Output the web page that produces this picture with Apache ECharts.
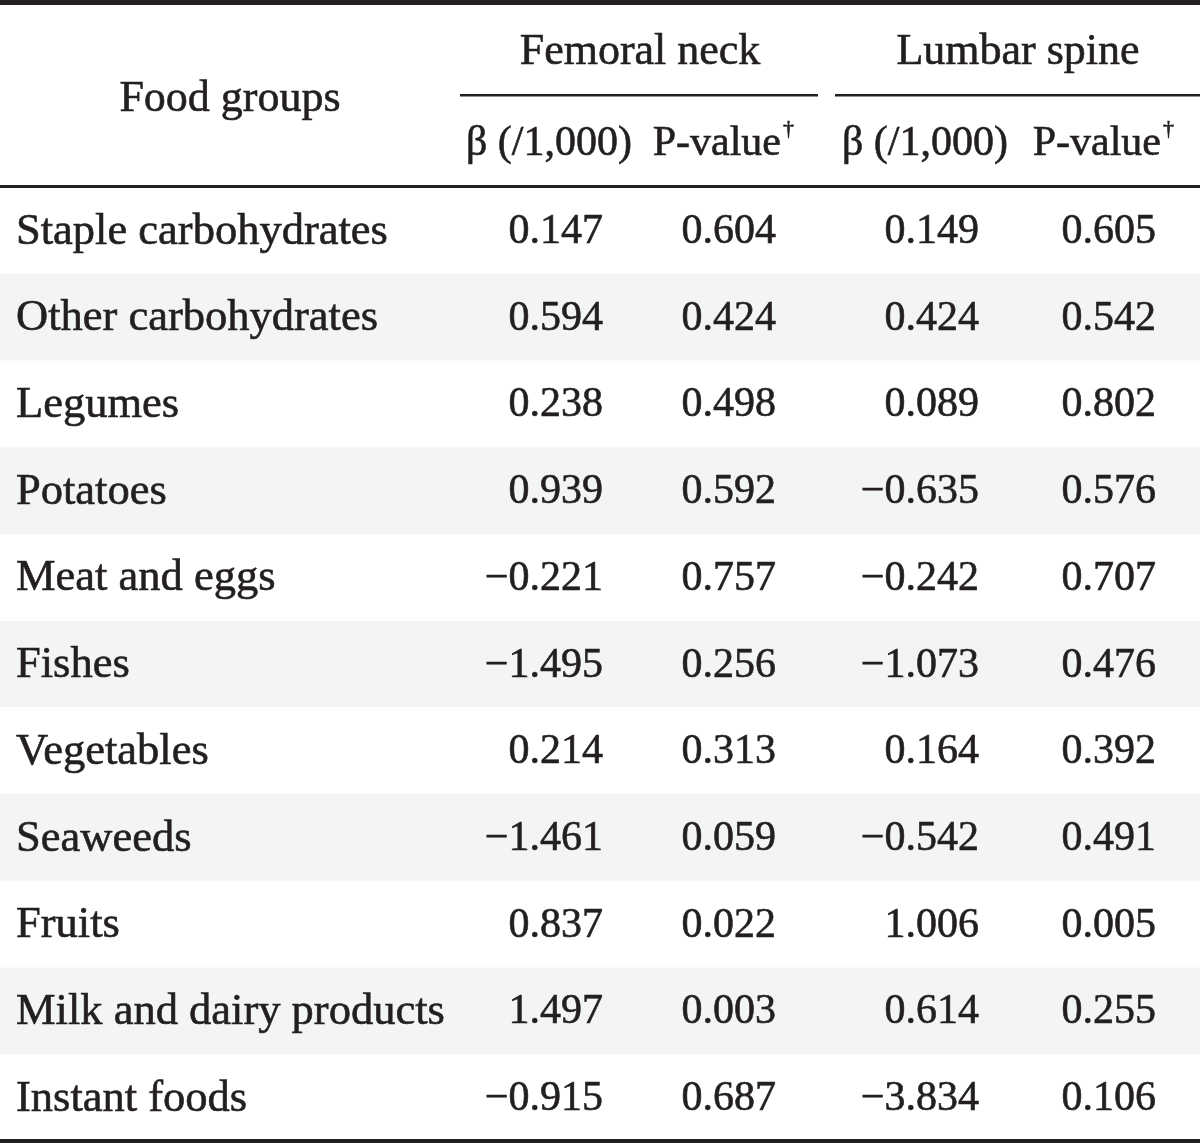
<!DOCTYPE html>
<html>
<head>
<meta charset="utf-8">
<script src="https://cdn.jsdelivr.net/npm/echarts@6/dist/echarts.min.js"></script>
<style>
html,body{margin:0;padding:0;background:#fff;}
#chart{width:1200px;height:1143px;}
</style>
</head>
<body>
<div id="chart"></div>
<script>
// ---- data ----
const foodGroups = [
  'Staple carbohydrates', 'Other carbohydrates', 'Legumes', 'Potatoes',
  'Meat and eggs', 'Fishes', 'Vegetables', 'Seaweeds', 'Fruits',
  'Milk and dairy products', 'Instant foods'
];
const femoralBeta = [0.147, 0.594, 0.238, 0.939, -0.221, -1.495, 0.214, -1.461, 0.837, 1.497, -0.915];
const femoralP    = [0.604, 0.424, 0.498, 0.592, 0.757, 0.256, 0.313, 0.059, 0.022, 0.003, 0.687];
const lumbarBeta  = [0.149, 0.424, 0.089, -0.635, -0.242, -1.073, 0.164, -0.542, 1.006, 0.614, -3.834];
const lumbarP     = [0.605, 0.542, 0.802, 0.576, 0.707, 0.476, 0.392, 0.491, 0.005, 0.255, 0.106];
const groupHeaders = ['Femoral neck', 'Lumbar spine'];
const subHeaders = ['β (/1,000)', 'P-value'];
const rowHeader = 'Food groups';

// ---- layout / style ----
const INK = '#231f20';
const SHADE = '#f3f5f4';
const FONT_TXT = '44.5px "Liberation Serif", "DejaVu Serif", serif';
const FONT_HDR = '44px "Liberation Serif", "DejaVu Serif", serif';
const FONT_SUB = '42px "Liberation Serif", "DejaVu Serif", serif';
const FONT_NUM = '42px "Liberation Serif", "DejaVu Serif", serif';
const FONT_SUP = '22px "Liberation Serif", "DejaVu Serif", serif';
const COL_X = [16, 603, 776, 979, 1156];
const TXT_DY = 1.5;
const WEIGHT = {stroke: INK, lineWidth: 0.6};

function fmt(v) {
  const s = Math.abs(v).toFixed(3);
  return v < 0 ? '\u2212' + s : s;
}

function txt(x, y, text, font, align) {
  return {type: 'text', x: x, y: y, style: Object.assign({text: text, font: font, fill: INK, align: align, verticalAlign: 'middle'}, WEIGHT)};
}

const chart = echarts.init(document.getElementById('chart'), null, {renderer: 'canvas'});

const rows = foodGroups.map((f, i) => [i, femoralBeta[i], femoralP[i], lumbarBeta[i], lumbarP[i]]);

const option = {
  backgroundColor: '#ffffff',
  animation: false,
  grid: {left: 0, right: 0, top: 187, bottom: 2},
  xAxis: {type: 'value', min: 0, max: 1200, show: false},
  yAxis: {type: 'category', data: foodGroups, inverse: true, show: false},
  series: [{
    type: 'custom',
    encode: {y: 0},
    data: rows,
    renderItem: function (params, api) {
      const idx = params.dataIndex;
      const row = api.value(0);
      const p0 = api.coord([0, row]);
      const p1 = api.coord([1200, row]);
      const h = api.size([0, 1])[1];
      const children = [];
      if (idx % 2 === 1) {
        children.push({
          type: 'rect',
          shape: {x: p0[0], y: p0[1] - h / 2, width: p1[0] - p0[0], height: h},
          style: {fill: SHADE}
        });
      }
      const cy = p0[1] + TXT_DY;
      children.push(txt(api.coord([COL_X[0], row])[0], cy, foodGroups[idx], FONT_TXT, 'left'));
      for (let k = 1; k <= 4; k++) {
        children.push(txt(api.coord([COL_X[k], row])[0], cy, fmt(api.value(k)), FONT_NUM, 'right'));
      }
      return {type: 'group', children: children};
    }
  }],
  graphic: [
    // rules
    {type: 'rect', shape: {x: 0, y: 0, width: 1200, height: 5}, style: {fill: INK}},
    {type: 'rect', shape: {x: 460, y: 94, width: 358, height: 2.5}, style: {fill: INK}},
    {type: 'rect', shape: {x: 835, y: 94, width: 365, height: 2.5}, style: {fill: INK}},
    {type: 'rect', shape: {x: 0, y: 185, width: 1200, height: 3}, style: {fill: INK}},
    {type: 'rect', shape: {x: 0, y: 1139, width: 1200, height: 4}, style: {fill: INK}},
    // header texts
    txt(230, 99, rowHeader, FONT_HDR, 'center'),
    txt(640, 52, groupHeaders[0], FONT_HDR, 'center'),
    txt(1018, 52, groupHeaders[1], FONT_HDR, 'center'),
    txt(549, 144, subHeaders[0], FONT_SUB, 'center'),
    txt(781, 144, subHeaders[1], FONT_SUB, 'right'),
    txt(783, 129, '\u2020', FONT_SUP, 'left'),
    txt(925, 144, subHeaders[0], FONT_SUB, 'center'),
    txt(1161, 144, subHeaders[1], FONT_SUB, 'right'),
    txt(1163, 129, '\u2020', FONT_SUP, 'left')
  ]
};
chart.setOption(option);
</script>
</body>
</html>
